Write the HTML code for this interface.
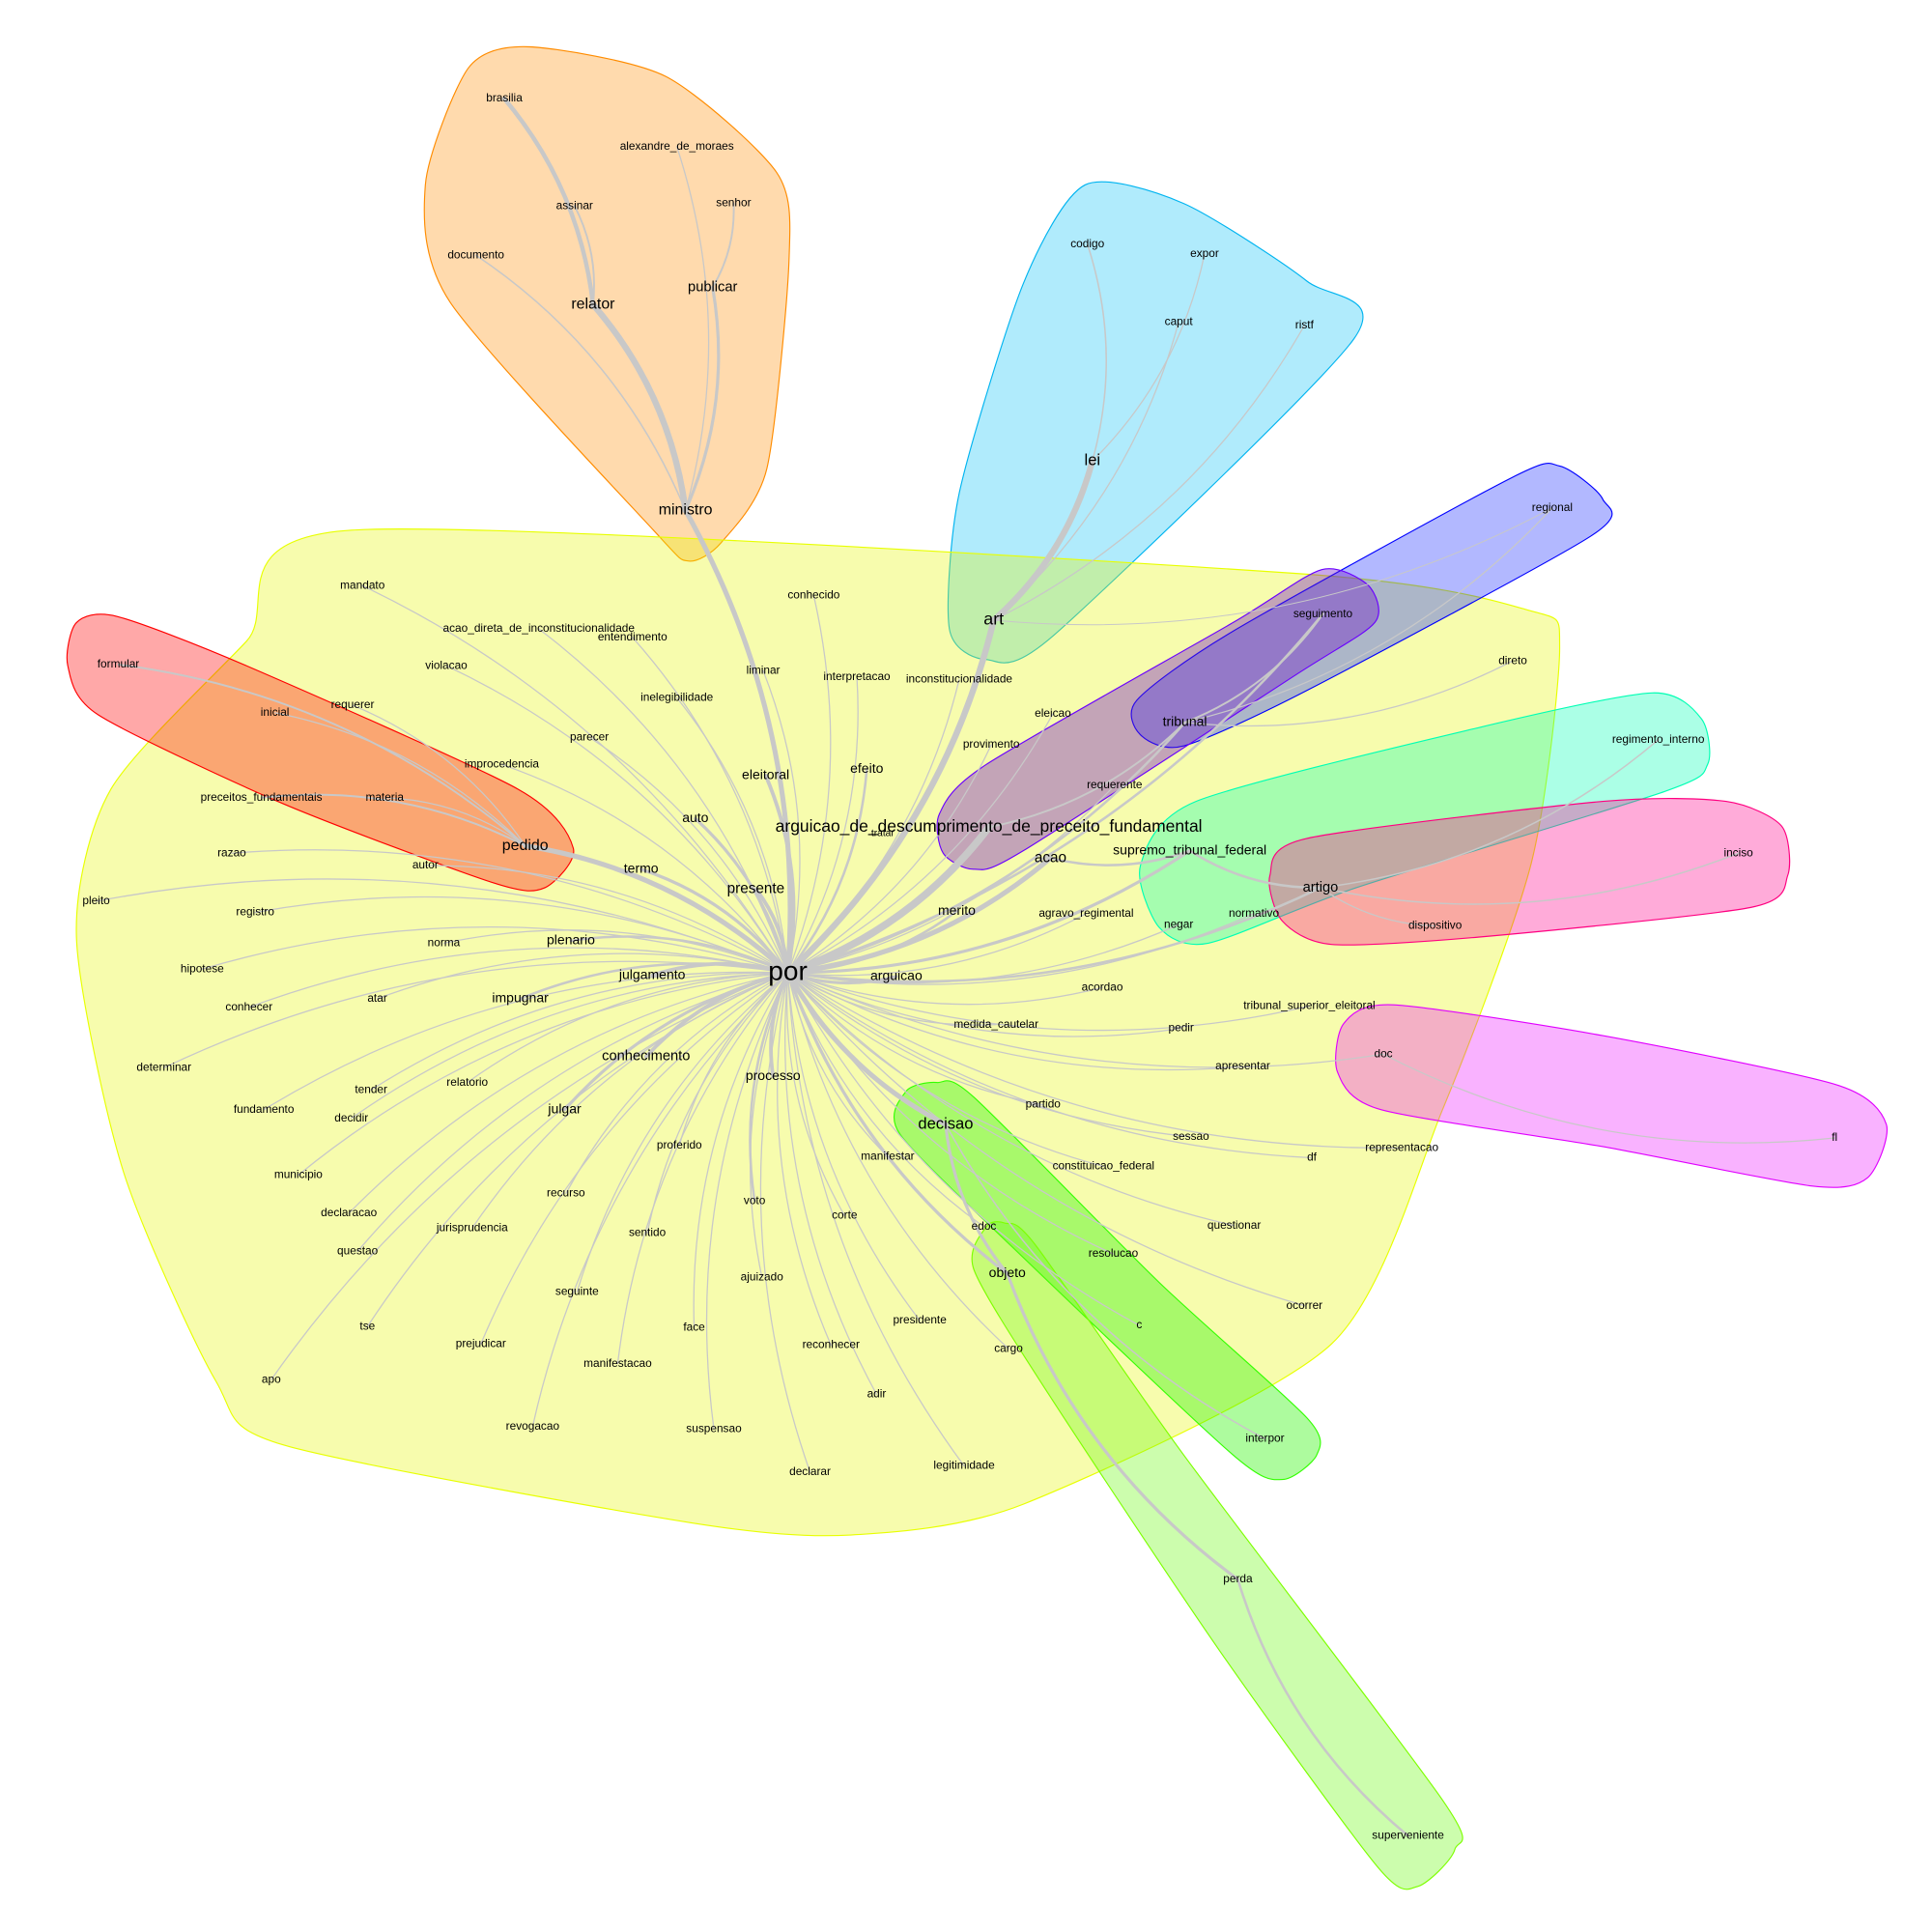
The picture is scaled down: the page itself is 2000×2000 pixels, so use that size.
<!DOCTYPE html>
<html><head><meta charset="utf-8">
<style>
html,body{margin:0;padding:0;background:#fff;}
svg{display:block;}
text{font-family:"Liberation Sans",Arial,sans-serif;fill:#000;text-anchor:middle;dominant-baseline:middle;}
</style></head>
<body>
<svg id="net" width="2000" height="2000" viewBox="0 0 1567 1567" xmlns="http://www.w3.org/2000/svg">
<g id="hulls"></g>
<g id="edges"></g>
<g id="labels"></g>
</svg>
<script>
const hullNames=["ministro-group","lei-group","por-group","pedido-group","tribunal-group","adpf-group","stf-group","artigo-group","doc-group","decisao-group","objeto-group"];
const hullFills=["rgba(255,140,0,0.32)","rgba(0,190,245,0.31)","rgba(230,245,0,0.32)","rgba(255,0,0,0.34)","rgba(20,40,255,0.33)","rgba(110,20,200,0.38)","rgba(0,255,180,0.33)","rgba(255,0,140,0.33)","rgba(235,0,255,0.30)","rgba(40,245,0,0.38)","rgba(110,250,20,0.35)"];
const hullStrokes=["#ff8c00","#00b4f0","#e8ff00","#ff0000","#0000ff","#6a00ff","#00ffb4","#ff0080","#e000ff","#33ff00","#7dff00"];
const hullPts=[
[[430,38],[540,62],[630,140],[640,210],[622,380],[585,440],[558,455],[530,430],[365,245],[345,150],[380,55]],
[[880,150],[960,165],[1060,228],[1098,275],[855,515],[800,535],[770,510],[778,400],[830,230]],
[[285,430],[1050,465],[1240,495],[1265,525],[1242,700],[1170,900],[1080,1090],[830,1220],[690,1245],[560,1235],[230,1172],[175,1120],[100,950],[62,760],[90,640],[200,520]],
[[62,505],[95,500],[200,540],[420,640],[465,688],[442,720],[400,716],[230,652],[80,580],[55,540]],
[[1265,378],[1300,405],[1290,435],[1060,560],[960,605],[925,596],[922,568],[1000,512],[1225,388]],
[[1072,462],[1110,475],[1115,505],[1050,548],[830,690],[790,705],[765,692],[762,660],[800,620],[1000,505]],
[[1340,562],[1380,583],[1385,620],[1350,642],[1100,720],[980,765],[940,752],[925,702],[970,650],[1200,590]],
[[1400,650],[1445,670],[1450,710],[1420,736],[1200,760],[1080,766],[1040,747],[1030,710],[1060,680],[1300,650]],
[[1130,815],[1300,840],[1490,880],[1530,912],[1515,955],[1470,962],[1300,930],[1120,900],[1085,870],[1090,830]],
[[760,878],[790,890],[940,1040],[1060,1150],[1068,1180],[1040,1200],[1000,1180],[830,1020],[730,920],[735,885]],
[[815,992],[840,1010],[960,1180],[1170,1460],[1180,1500],[1150,1530],[1118,1515],[990,1340],[850,1130],[790,1030],[800,995]]
];
const nodeNames=["por","arguicao_de_descumprimento_de_preceito_fundamental","art","lei","ministro","relator","pedido","decisao","objeto","presente","acao","artigo","tribunal","supremo_tribunal_federal","conhecimento","julgamento","arguicao","processo","plenario","impugnar","julgar","merito","termo","auto","eleitoral","efeito","publicar",
"brasilia","alexandre_de_moraes","assinar","senhor","documento","codigo","expor","caput","ristf","regional","seguimento","direto","regimento_interno","inciso","dispositivo","doc","fl","interpor","perda","superveniente","mandato","acao_direta_de_inconstitucionalidade","entendimento","conhecido","violacao","liminar","interpretacao","inconstitucionalidade","inelegibilidade","eleicao","formular","inicial","requerer","parecer","provimento","improcedencia","requerente","preceitos_fundamentais","materia","razao","autor","pleito","registro","agravo_regimental","negar","normativo","norma","hipotese","acordao","atar","conhecer","tribunal_superior_eleitoral","medida_cautelar","pedir","apresentar","determinar","relatorio","tender","partido","fundamento","decidir","proferido","sessao","representacao","manifestar","df","constituicao_federal","municipio","recurso","voto","declaracao","corte","questionar","edoc","jurisprudencia","sentido","questao","resolucao","ajuizado","seguinte","ocorrer","tse","face","presidente","c","prejudicar","reconhecer","cargo","manifestacao","apo","adir","revogacao","suspensao","declarar","legitimidade","tratar"];
const nodeX=[639,802,806,886,556,481,426,767,817,613,852,1071,961,965,524,529,727,627,463,422,458,776,520,564,621,703,578,
409,549,466,595,386,882,977,956,1058,1259,1073,1227,1345,1410,1164,1122,1488,1026,1004,1142,294,437,513,660,362,619,695,778,549,854,96,223,286,478,804,407,904,212,312,188,345,78,207,881,956,1017,360,164,894,306,202,1062,808,958,1008,133,379,301,846,214,285,551,966,1137,720,1064,895,242,459,612,283,685,1001,798,383,525,290,903,618,468,1058,298,563,746,924,390,674,818,501,220,711,432,579,657,782,716];
const nodeY=[789,671,503,374,414,247,686,912,1033,721,696,720,586,690,857,791,792,873,763,810,900,739,705,664,629,624,233,
80,119,167,165,207,198,206,261,264,412,498,536,600,692,751,855,923,1167,1281,1489,475,510,517,483,540,544,549,551,566,579,539,578,572,598,604,620,637,647,647,692,702,731,740,741,750,741,765,786,801,810,817,816,831,834,865,866,878,884,896,900,907,929,922,931,938,939,946,953,968,974,984,986,994,995,996,1000,1015,1017,1036,1048,1059,1076,1077,1071,1075,1090,1091,1094,1106,1119,1131,1157,1159,1194,1189,676];
const nodeSize=[22,13.7,14,13,12.5,12.5,12.5,13,11,12,12,11.5,11,11,11.5,11,11,11,11,11,11,11,11,11,11,11,11.5];
const edgeSrc=["ministro","relator","relator","ministro","ministro","publicar","ministro","art","lei","lei","art","art","art","tribunal","tribunal","tribunal","supremo_tribunal_federal","artigo","artigo","artigo","doc","decisao","objeto","perda","decisao","pedido","pedido","pedido","pedido","pedido","acao","arguicao_de_descumprimento_de_preceito_fundamental"];
const edgeTgt=["relator","brasilia","assinar","publicar","alexandre_de_moraes","senhor","documento","lei","codigo","expor","caput","ristf","regional","seguimento","regional","direto","artigo","regimento_interno","inciso","dispositivo","fl","objeto","perda","superveniente","interpor","formular","inicial","requerer","materia","preceitos_fundamentais","supremo_tribunal_federal","tribunal"];
const edgeW=[5,3.5,1.5,2.5,1,1.5,1.2,5,1.2,1,1,1,0.8,1.5,1,1,2,1.2,1.2,1,1,2.5,2.5,2,1.2,1.5,1,1,1,1.5,2,1.5];
const porW={"ministro":4,"art":5,"arguicao_de_descumprimento_de_preceito_fundamental":6,"pedido":4,"decisao":4,"acao":4,"presente":3,"conhecimento":3,"julgamento":3,"arguicao":2.5,"processo":3,"eleitoral":3,"supremo_tribunal_federal":2.5,"merito":2,"termo":2.5,"auto":2.5,"plenario":2,"impugnar":2,"julgar":2.5,"efeito":2,"objeto":2.5,"artigo":2,"tribunal":2,"seguimento":2,"voto":2};
const NS="http://www.w3.org/2000/svg";
function idx(n){return nodeNames.indexOf(n);}
const hg=document.getElementById('hulls');
function smoothPath(p){let d="";const n=p.length;const k=8;for(let i=0;i<n;i++){const a=p[(i-1+n)%n],b=p[i],c=p[(i+1)%n],e=p[(i+2)%n];if(i===0)d+="M"+b[0]+","+b[1];const c1=[b[0]+(c[0]-a[0])/k,b[1]+(c[1]-a[1])/k],c2=[c[0]-(e[0]-b[0])/k,c[1]-(e[1]-b[1])/k];d+="C"+c1[0]+","+c1[1]+" "+c2[0]+","+c2[1]+" "+c[0]+","+c[1];}return d+"Z";}
hullPts.forEach((p,i)=>{const el=document.createElementNS(NS,'path');el.setAttribute('d',smoothPath(p));el.setAttribute('fill',hullFills[i]);el.setAttribute('stroke',hullStrokes[i]);el.setAttribute('stroke-width','0.9');el.setAttribute('stroke-linejoin','round');


hg.appendChild(el);});
const eg=document.getElementById('edges');
function edge(a,b,w){const i=idx(a),j=idx(b);if(i<0||j<0)return;const x1=nodeX[i],y1=nodeY[i],x2=nodeX[j],y2=nodeY[j];const mx=(x1+x2)/2,my=(y1+y2)/2,dx=x2-x1,dy=y2-y1;const cx=mx-dy*0.15,cy=my+dx*0.15;const el=document.createElementNS(NS,'path');el.setAttribute('d',`M${x1},${y1}Q${cx},${cy} ${x2},${y2}`);el.setAttribute('fill','none');el.setAttribute('stroke','#c8c8c8');el.setAttribute('stroke-width',w);el.setAttribute('stroke-linecap','round');


eg.appendChild(el);}
const secondary=new Set(["relator","brasilia","assinar","publicar","alexandre_de_moraes","senhor","documento","lei","codigo","expor","caput","ristf","regional","direto","regimento_interno","inciso","dispositivo","fl","perda","superveniente","interpor","formular","inicial","requerer","materia","preceitos_fundamentais","tratar"]);
nodeNames.forEach(n=>{if(n!=="por"&&!secondary.has(n))edge("por",n,porW[n]||1);});
edgeSrc.forEach((s,k)=>edge(s,edgeTgt[k],edgeW[k]));
const lg=document.getElementById('labels');
nodeNames.forEach((n,i)=>{const t=document.createElementNS(NS,'text');t.setAttribute('x',nodeX[i]);t.setAttribute('y',nodeY[i]);t.setAttribute('font-size',n==="tratar"?8:(nodeSize[i]||9.3));t.textContent=n;


lg.appendChild(t);});
</script>
</body></html>
